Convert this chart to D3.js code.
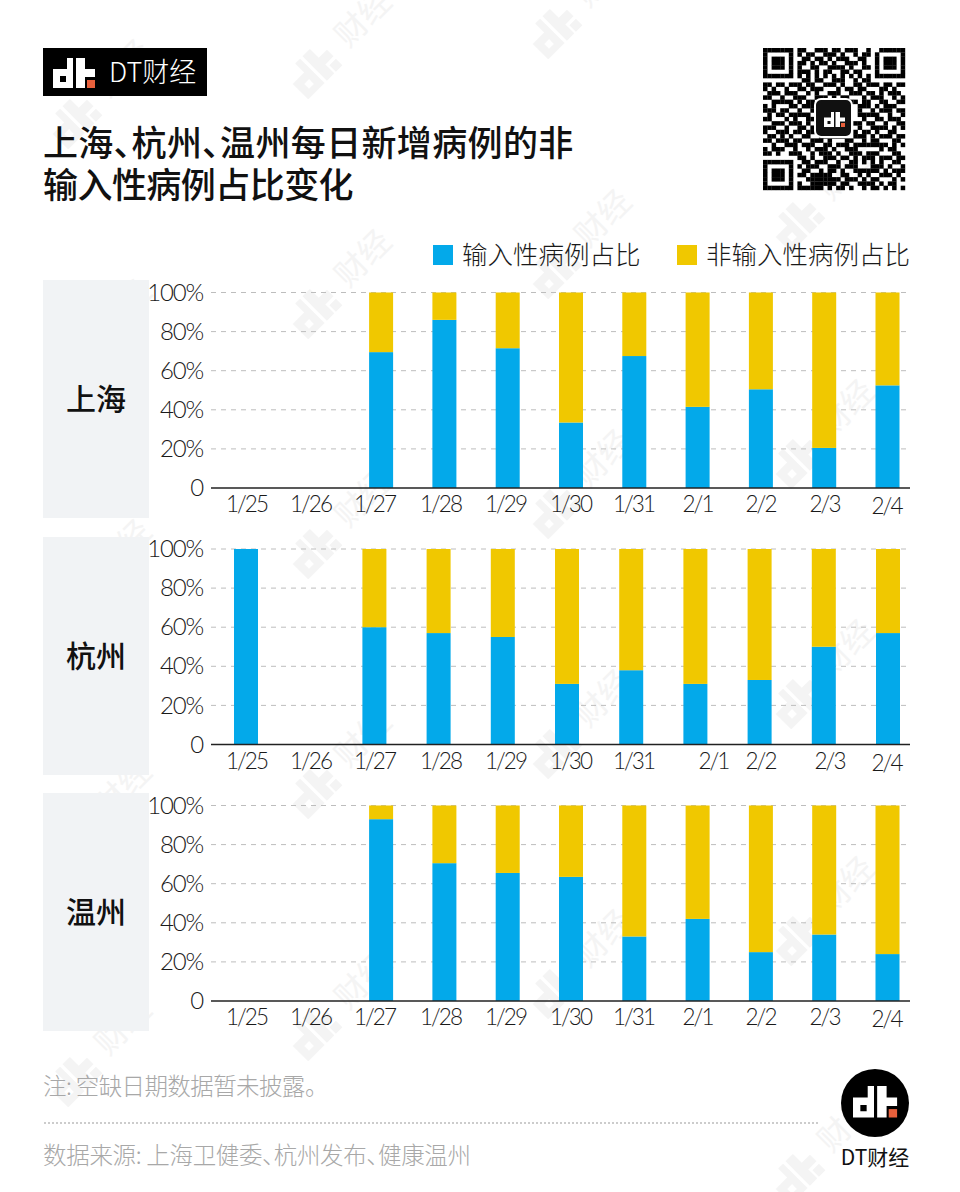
<!DOCTYPE html>
<html>
<head>
<meta charset="utf-8">
<script src="https://cdn.jsdelivr.net/npm/d3@7"></script>
<style>
html,body{margin:0;padding:0;background:#fff;}
svg{display:block;}
text{font-family:"Noto Sans CJK SC",sans-serif;}
.title,.foot{font-feature-settings:"palt";}
.tick text{font-family:Lato,"Noto Sans",sans-serif;font-weight:300;fill:#1a1a1a;letter-spacing:-1.2px;}
.xaxis .tick text{letter-spacing:-2px;}
.domain{display:none;}
</style>
</head>
<body>
<svg id="chart" width="960" height="1192"></svg>
<script>
'use strict';

var dates=['1/25','1/26','1/27','1/28','1/29','1/30','1/31','2/1','2/2','2/3','2/4'];
var shanghai=[null,null,69.5,86,71.5,33.5,67.5,41.5,50.5,20.5,52.5];
var hangzhou=[100,null,60,57,55,31,38,31,33,50,57];
var wenzhou=[null,null,93,70.5,65.5,63.5,33,42,25,34,24];
var cities=['上海','杭州','温州'];
var cityValues=[shanghai,hangzhou,wenzhou];
var yTicks=[0,20,40,60,80,100];
var seriesNames=['输入性病例占比','非输入性病例占比'];
var titleLines=['上海、杭州、温州每日新增病例的非','输入性病例占比变化'];
var note='注: 空缺日期数据暂未披露。';
var source='数据来源: 上海卫健委、杭州发布、健康温州';
var brand='DT财经';

var colors=['#03a9ea','#f0c800'];

// the tick labels in the picture sit a little off the even spacing
var nudgeBase=[0,0,0,2,3,4,3,3,2,2,0];
var nudgeHangzhou=[0,0,0,2,3,4,3,19,2,7,0];

var qrRows=[
'111111101100111011011100100111111',
'100000101011001110100101101000001',
'101110100110110101110011001011101',
'101110101101011010011101001011101',
'101110101001100111101001101011101',
'100000101110101100110110001000001',
'111111101010101010101010101111111',
'000000000110110011100101100000000',
'110110111011001110100110111011011',
'101001001101110001011011000110100',
'011101110010100111001110110101110',
'110010011100111010110001011100101',
'001111101011000111011101100110011',
'101000110111010000000011101011100',
'111011001001100000000010010111011',
'010110111110100000000011111001001',
'110001010011100000000001001101110',
'001110111010000000000110110010011',
'111001001101100000000010011110101',
'100111011011010000000101101001100',
'011010100110011011100111010111011',
'110111011001110100011001011000110',
'001001110111001101110111111110101',
'101110010010111010011100000101100',
'110100111001011101001110111000110',
'000000001101001110110101110111011',
'111111100110111001001101010100110',
'100000101011100111011100011101001',
'101110100110010110100111111010111',
'101110101101111100110010100111010',
'101110100011111111011101011000101',
'100000101001111110110011110101100',
'111111101111110101101001011010101'
];

var svg=d3.select('#chart');

// dt mark, drawn in a 42x30 box
function drawMark(g,fg,accent){
    g.append('path')
        .attr('fill',fg)
        .attr('fill-rule','evenodd')
        .attr('d','M14 0H20V30H0V11H14ZM7 18V24H13V18Z');
    g.append('path')
        .attr('fill',fg)
        .attr('d','M23 0H32V11H42V19H32V30H23Z');
    g.append('rect')
        .attr('x',34).attr('y',22).attr('width',8).attr('height',8)
        .attr('fill',accent);
}

// watermark grid
var wmCols=[70,310,550,793];
var wmRows=[[120,360,600,840,1078],[70,310,550,790,1032],[30,270,510,750,990],[223,460,700,937,1175]];
var wm=svg.append('g');
wmCols.forEach(function(x,i){
    wmRows[i].forEach(function(y){
        var g=wm.append('g').attr('transform','translate('+x+','+y+') rotate(-45)');
        var m=g.append('g').attr('transform','translate(-22,-15) scale(1.15)');
        drawMark(m,'#f4f4f4','#f4f4f4');
        g.append('text')
            .attr('x',42).attr('y',12)
            .attr('font-size',32)
            .attr('font-weight',400)
            .attr('fill','#f4f4f4')
            .text('财经');
    });
});

// header logo
svg.append('rect').attr('x',43).attr('y',48).attr('width',164).attr('height',48).attr('fill','#000');
drawMark(svg.append('g').attr('transform','translate(53,58)'),'#fff','#e8603c');
svg.append('text')
    .attr('x',109).attr('y',82)
    .attr('font-size',27)
    .attr('font-weight',300)
    .attr('fill','#fff')
    .text(brand);

var titleSpacing=[0.35,-0.55];
svg.selectAll('.title').data(titleLines).enter().append('text')
    .attr('class','title')
    .attr('x',43)
    .attr('y',function(d,i){return 156+i*42;})
    .attr('font-size',35)
    .attr('font-weight',500)
    .attr('letter-spacing',function(d,i){return titleSpacing[i];})
    .attr('fill','#111')
    .text(function(d){return d;});

// qr code
var qrSize=142/33;
var qr=svg.append('g').attr('transform','translate(763,48)');
qrRows.forEach(function(row,r){
    row.split('').forEach(function(c,k){
        if(c==='1'){
            qr.append('rect')
                .attr('x',k*qrSize).attr('y',r*qrSize)
                .attr('width',qrSize+0.2).attr('height',qrSize+0.2)
                .attr('fill','#000');
        }
    });
});
svg.append('rect')
    .attr('x',815).attr('y',99).attr('width',37).attr('height',38).attr('rx',6)
    .attr('fill','#111').attr('stroke','#fff').attr('stroke-width',2);
drawMark(svg.append('g').attr('transform','translate(824,112) scale(0.5)'),'#fff','#e8603c');

// legend
var legendX=[433,677];
var legend=svg.selectAll('.legend').data(seriesNames).enter().append('g')
    .attr('class','legend')
    .attr('transform',function(d,i){return 'translate('+legendX[i]+',245)';});
legend.append('rect')
    .attr('width',20).attr('height',20)
    .attr('fill',function(d,i){return colors[i];});
legend.append('text')
    .attr('x',29).attr('y',19)
    .attr('font-size',25.5)
    .attr('font-weight',300)
    .attr('fill','#1a1a1a')
    .text(function(d){return d;});

// panels
var panelTop=[280,537,793];
var plotTop=[292.5,549,805.5];
var xRange=[[254.5,887.5],[246,888],[254.5,887.5]];
var labelNudge=[nudgeBase,nudgeHangzhou,nudgeBase];
var plotH=195.5;
var axisL=211,axisR=910,barW=24;

var labelX=d3.scalePoint().domain(dates).range([246,886]);
var stack=d3.stack().keys([0,1]).value(function(d,k){
    return d.v===null?0:(k===0?d.v:100-d.v);
});

cities.forEach(function(city,p){
    var g=svg.append('g');
    var y=d3.scaleLinear().domain([0,100]).range([plotTop[p]+plotH,plotTop[p]]);
    var x=d3.scalePoint().domain(dates).range(xRange[p]);
    var rows=dates.map(function(d,i){return {date:d,v:cityValues[p][i]};});

    g.append('rect')
        .attr('x',43).attr('y',panelTop[p]).attr('width',106).attr('height',238)
        .attr('fill','#f1f3f5');
    g.append('text')
        .attr('x',96).attr('y',panelTop[p]+130)
        .attr('text-anchor','middle')
        .attr('font-size',30)
        .attr('font-weight',500)
        .attr('fill','#111')
        .text(city);

    // grid
    g.selectAll('.grid').data(yTicks.slice(1)).enter().append('line')
        .attr('class','grid')
        .attr('x1',axisL).attr('x2',axisR-2)
        .attr('y1',function(d){return y(d);})
        .attr('y2',function(d){return y(d);})
        .attr('stroke','#bdbdbd')
        .attr('stroke-width',1)
        .attr('stroke-dasharray','5,5');

    // bars
    g.selectAll('.series').data(stack(rows)).enter().append('g')
        .attr('class','series')
        .attr('fill',function(d,i){return colors[i];})
      .selectAll('rect').data(function(d){
            return d.filter(function(e){return e.data.v!==null&&e[1]>e[0];});
        }).enter().append('rect')
        .attr('x',function(d){return x(d.data.date)-barW/2;})
        .attr('y',function(d){return y(d[1]);})
        .attr('width',barW)
        .attr('height',function(d){return y(d[0])-y(d[1]);});

    // axes
    g.append('g')
        .attr('transform','translate('+axisL+',0)')
        .call(d3.axisLeft(y).tickValues(yTicks).tickSize(0).tickPadding(8)
            .tickFormat(function(d){return d===0?'0':d+'%';}))
        .selectAll('text').attr('font-size',24);

    var xAxis=g.append('g')
        .attr('class','xaxis')
        .attr('transform','translate(0,'+(plotTop[p]+plotH)+')')
        .call(d3.axisBottom(labelX).tickSize(0).tickPadding(6));
    xAxis.selectAll('text')
        .attr('font-size',22.5)
        .attr('dx',function(d,i){return labelNudge[p][i];})
        .attr('dy',function(d){return d==='2/4'?'20px':'18px';});

    g.append('line')
        .attr('x1',axisL).attr('x2',axisR)
        .attr('y1',plotTop[p]+plotH).attr('y2',plotTop[p]+plotH)
        .attr('stroke','#222').attr('stroke-width',1.5);
});

// footer
svg.append('text')
    .attr('class','foot')
    .attr('x',43).attr('y',1095)
    .attr('font-size',23.5).attr('font-weight',300).attr('fill','#a8a8a8')
    .attr('letter-spacing',-0.6)
    .text(note);
svg.append('line')
    .attr('x1',44).attr('x2',820).attr('y1',1123).attr('y2',1123)
    .attr('stroke','#999').attr('stroke-dasharray','2,2');
svg.append('text')
    .attr('class','foot')
    .attr('x',43).attr('y',1164)
    .attr('font-size',23.5).attr('font-weight',300).attr('fill','#a8a8a8')
    .attr('letter-spacing',-0.3)
    .text(source);

svg.append('circle').attr('cx',875).attr('cy',1103).attr('r',34).attr('fill','#000');
drawMark(svg.append('g').attr('transform','translate(853,1086) scale(1.05)'),'#fff','#e8603c');
svg.append('text')
    .attr('x',875).attr('y',1165)
    .attr('text-anchor','middle')
    .attr('font-size',21)
    .attr('font-weight',400)
    .attr('fill','#111')
    .text(brand);
</script>
</body>
</html>
